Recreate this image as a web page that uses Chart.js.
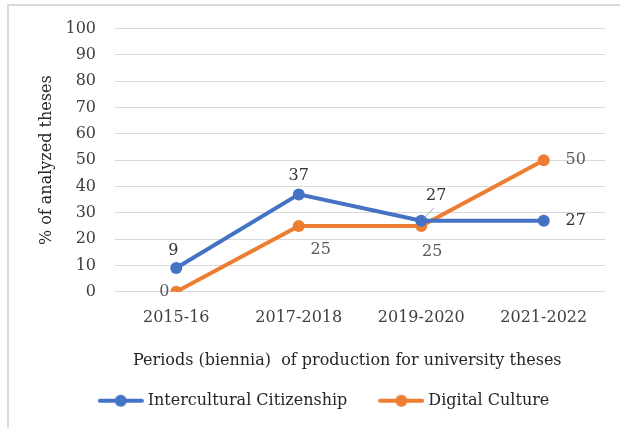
<!DOCTYPE html>
<html>
<head>
<meta charset="utf-8">
<script src="https://cdn.jsdelivr.net/npm/chart.js@4/dist/chart.umd.min.js"></script>
<style>
  html, body { margin: 0; padding: 0; background: #fff; }
  #wrap { position: relative; width: 620px; height: 428px; overflow: hidden; }
  #frame { position: absolute; left: 7px; top: 4px; width: 640px; height: 440px;
           border-top: 2px solid #d9d9d9; border-left: 2px solid #d9d9d9; }
  #ctx { position: absolute; left: 0; top: 0; }
</style>
</head>
<body>
<div id="wrap">
  <div id="frame"></div>
  <canvas id="ctx" width="620" height="428"></canvas>
</div>
<script>
const periods = ['2015-16', '2017-2018', '2019-2020', '2021-2022'];
const citizenship = [9, 37, 27, 27];
const digital = [0, 25, 25, 50];
const seriesNames = ['Intercultural Citizenship', 'Digital Culture'];

const BLUE = '#4472C4';
const ORANGE = '#ED7D31';
const FONT = 'DejaVu Serif';

// where each value label sits, relative to its point
const labelOffsets = [
  [[-3, -17], [0, -19], [15, -25], [32, 0]],
  [[-12, 0], [22, 24], [11, 26], [32, 0]],
];
const labelColors = ['#333333', '#595959'];

// legend marker: short line with a dot
function legendMarker(color) {
  const c = document.createElement('canvas');
  c.width = 46;
  c.height = 14;
  const g = c.getContext('2d');
  g.strokeStyle = color;
  g.lineWidth = 4;
  g.lineCap = 'round';
  g.beginPath();
  g.moveTo(2, 7);
  g.lineTo(44, 7);
  g.stroke();
  g.fillStyle = color;
  g.beginPath();
  g.arc(23, 7, 6, 0, Math.PI * 2);
  g.fill();
  return c;
}

const valueLabels = {
  id: 'valueLabels',
  afterDatasetsDraw(chart) {
    const ctx = chart.ctx;
    ctx.save();
    ctx.font = '16px "' + FONT + '"';
    ctx.textAlign = 'center';
    ctx.textBaseline = 'middle';
    chart.data.datasets.forEach((ds, i) => {
      const meta = chart.getDatasetMeta(i);
      meta.data.forEach((pt, j) => {
        const [dx, dy] = labelOffsets[i][j];
        // leader line for the label pushed away from the crossing
        if (i === 0 && j === 2) {
          ctx.strokeStyle = '#a6a6a6';
          ctx.lineWidth = 1;
          ctx.beginPath();
          ctx.moveTo(pt.x + 3, pt.y - 3);
          ctx.lineTo(pt.x + 13, pt.y - 13);
          ctx.stroke();
        }
        ctx.fillStyle = labelColors[i];
        ctx.fillText(String(ds.data[j]), pt.x + dx, pt.y + dy);
      });
    });
    ctx.restore();
  }
};

new Chart(document.getElementById('ctx'), {
  type: 'line',
  data: {
    labels: periods,
    datasets: [
      {
        label: seriesNames[0],
        data: citizenship,
        borderColor: BLUE,
        backgroundColor: BLUE,
        borderWidth: 4,
        pointRadius: 6,
        pointBorderWidth: 0,
        pointStyle: 'circle',
        tension: 0,
      },
      {
        label: seriesNames[1],
        data: digital,
        borderColor: ORANGE,
        backgroundColor: ORANGE,
        borderWidth: 4,
        pointRadius: 6,
        pointBorderWidth: 0,
        pointStyle: 'circle',
        tension: 0,
      },
    ],
  },
  options: {
    responsive: false,
    animation: false,
    layout: { padding: { left: 46, right: 15, top: 28.7, bottom: 9.3 } },
    scales: {
      x: {
        offset: true,
        grid: { display: false, drawTicks: false },
        border: { display: false },
        ticks: { color: '#404040', font: { family: FONT, size: 16 }, padding: 17, maxRotation: 0 },
        title: {
          display: true,
          text: 'Periods (biennia)  of production for university theses     ',
          color: '#262626',
          font: { family: FONT, size: 16 },
          padding: { top: 0, bottom: -12.9 },
        },
        afterFit(scale) { scale.height = 66; },
      },
      y: {
        min: 0,
        max: 100,
        grid: { color: '#d9d9d9', lineWidth: 1, drawTicks: false },
        border: { display: false },
        ticks: { stepSize: 10, color: '#404040', font: { family: FONT, size: 16 }, padding: 19 },
        title: {
          display: true,
          text: '% of analyzed theses',
          color: '#262626',
          font: { family: FONT, size: 16 },
          padding: { top: -8.6, bottom: 0 },
        },
        afterFit(scale) { scale.width = 69; },
      },
    },
    plugins: {
      legend: {
        position: 'bottom',
        labels: {
          usePointStyle: true,
          pointStyleWidth: 38,
          padding: 35,
          color: '#262626',
          font: { family: FONT, size: 16 },
          generateLabels(chart) {
            return chart.data.datasets.map((ds, i) => ({
              text: ds.label,
              pointStyle: legendMarker(ds.borderColor),
              fillStyle: ds.borderColor,
              strokeStyle: ds.borderColor,
              lineWidth: 0,
              fontColor: '#262626',
              hidden: false,
              datasetIndex: i,
            }));
          },
        },
      },
      tooltip: { enabled: false },
    },
  },
  plugins: [valueLabels],
});
</script>
</body>
</html>
